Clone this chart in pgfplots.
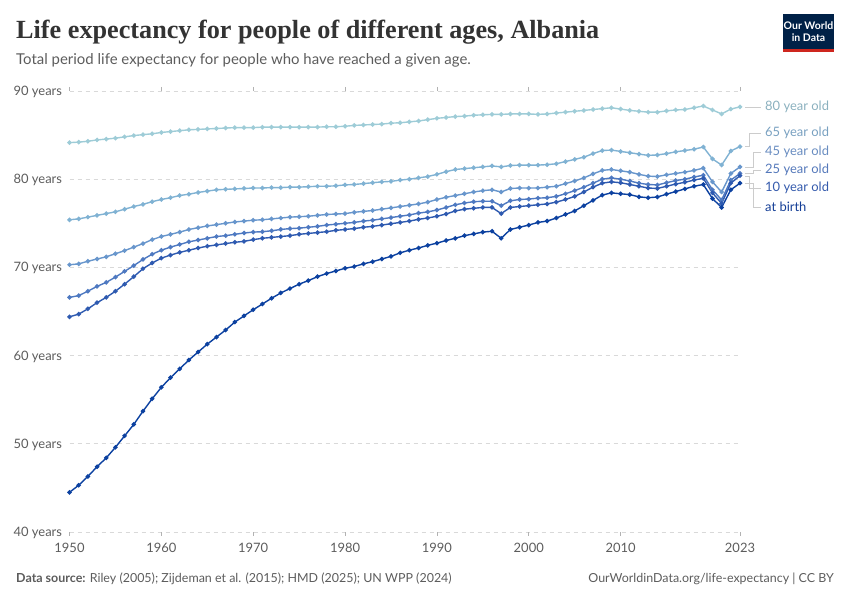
\documentclass[border=0pt]{standalone}
\usepackage{fontspec}
\setmainfont{Lato}
\newfontfamily\titlefont{Liberation Serif}
\usepackage{pgfplots}
\pgfplotsset{compat=1.18}
\usepackage{pgfplotstable}

\definecolor{c80}{RGB}{158,204,215}
\definecolor{c65}{RGB}{128,178,211}
\definecolor{c45}{RGB}{104,150,204}
\definecolor{c25}{RGB}{78,121,193}
\definecolor{c10}{RGB}{46,90,176}
\definecolor{cbirth}{RGB}{12,65,160}
\definecolor{t80}{RGB}{138,176,190}
\definecolor{t65}{RGB}{120,160,192}
\definecolor{t45}{RGB}{104,140,192}
\definecolor{t25}{RGB}{84,120,186}
\definecolor{t10}{RGB}{52,90,172}
\definecolor{tbirth}{RGB}{20,62,150}
\definecolor{txtgray}{RGB}{92,92,92}
\definecolor{owidblue}{RGB}{0,33,71}
\definecolor{owidred}{RGB}{206,38,30}

\pgfplotstableread{
year birth y10 y25 y45 y65 y80
1950 44.5 64.4 66.6 70.3 75.4 84.15
1951 45.3 64.7 66.8 70.4 75.5 84.2
1952 46.3 65.3 67.3 70.7 75.7 84.3
1953 47.4 66.0 67.85 70.95 75.9 84.45
1954 48.4 66.6 68.3 71.2 76.1 84.55
1955 49.6 67.3 68.9 71.55 76.3 84.65
1956 50.9 68.1 69.55 71.9 76.6 84.8
1957 52.2 68.95 70.2 72.3 76.9 84.95
1958 53.7 69.85 70.9 72.7 77.15 85.05
1959 55.1 70.5 71.5 73.15 77.45 85.15
1960 56.4 71.05 71.95 73.5 77.7 85.3
1961 57.5 71.4 72.3 73.75 77.9 85.4
1962 58.5 71.7 72.6 74.0 78.15 85.5
1963 59.5 71.95 72.9 74.3 78.3 85.6
1964 60.4 72.2 73.1 74.5 78.5 85.65
1965 61.3 72.4 73.3 74.7 78.65 85.7
1966 62.1 72.55 73.5 74.85 78.8 85.75
1967 62.9 72.7 73.6 75.0 78.85 85.8
1968 63.8 72.85 73.75 75.15 78.9 85.85
1969 64.5 72.95 73.9 75.25 78.95 85.85
1970 65.2 73.15 74.0 75.35 79.0 85.85
1971 65.85 73.3 74.05 75.4 79.0 85.9
1972 66.5 73.4 74.15 75.5 79.05 85.9
1973 67.1 73.5 74.3 75.6 79.05 85.9
1974 67.6 73.6 74.4 75.7 79.1 85.9
1975 68.1 73.75 74.45 75.75 79.1 85.9
1976 68.5 73.85 74.55 75.8 79.15 85.9
1977 68.95 73.95 74.65 75.9 79.2 85.9
1978 69.3 74.05 74.8 76.0 79.2 85.95
1979 69.6 74.2 74.9 76.05 79.25 85.95
1980 69.9 74.3 75.0 76.1 79.35 86.0
1981 70.1 74.4 75.1 76.25 79.4 86.1
1982 70.4 74.55 75.25 76.35 79.5 86.15
1983 70.65 74.65 75.35 76.45 79.6 86.2
1984 70.95 74.8 75.5 76.6 79.7 86.25
1985 71.25 74.95 75.65 76.75 79.75 86.35
1986 71.65 75.1 75.8 76.9 79.9 86.4
1987 71.95 75.25 75.95 77.05 80.0 86.5
1988 72.2 75.45 76.15 77.2 80.15 86.6
1989 72.5 75.6 76.3 77.4 80.3 86.75
1990 72.75 75.8 76.5 77.7 80.55 86.9
1991 73.05 76.05 76.8 77.95 80.85 87.0
1992 73.3 76.4 77.1 78.15 81.1 87.1
1993 73.6 76.6 77.3 78.35 81.2 87.15
1994 73.8 76.7 77.45 78.55 81.3 87.25
1995 74.0 76.8 77.5 78.7 81.4 87.3
1996 74.1 76.8 77.5 78.8 81.5 87.35
1997 73.3 76.1 77.0 78.55 81.4 87.35
1998 74.3 76.8 77.55 78.95 81.55 87.4
1999 74.55 76.9 77.7 79.0 81.6 87.4
2000 74.8 77.0 77.75 79.0 81.6 87.4
2001 75.1 77.1 77.85 79.0 81.6 87.35
2002 75.25 77.2 77.9 79.1 81.65 87.4
2003 75.6 77.4 78.05 79.2 81.75 87.5
2004 76.0 77.7 78.35 79.5 82.0 87.6
2005 76.4 78.05 78.7 79.8 82.25 87.7
2006 77.0 78.55 79.1 80.15 82.5 87.8
2007 77.6 79.1 79.55 80.6 82.9 87.9
2008 78.2 79.55 80.0 81.0 83.25 88.0
2009 78.45 79.7 80.15 81.1 83.3 88.1
2010 78.35 79.6 80.0 80.95 83.15 87.95
2011 78.25 79.4 79.8 80.8 83.0 87.8
2012 78.0 79.2 79.55 80.55 82.85 87.7
2013 77.9 79.0 79.4 80.35 82.7 87.6
2014 77.98 78.95 79.35 80.3 82.75 87.6
2015 78.3 79.2 79.6 80.5 82.9 87.75
2016 78.6 79.45 79.85 80.65 83.1 87.85
2017 78.9 79.65 80.0 80.8 83.25 87.9
2018 79.2 79.9 80.25 81.0 83.4 88.1
2019 79.4 80.1 80.45 81.25 83.65 88.3
2020 77.8 78.45 78.8 79.7 82.3 87.85
2021 76.8 77.25 77.65 78.55 81.6 87.4
2022 78.8 79.55 79.9 80.65 83.2 87.95
2023 79.55 80.4 80.65 81.4 83.7 88.2
}\lifetable

\begin{document}
\begin{tikzpicture}
\useasboundingbox (0,0) rectangle (850bp,600bp);
% title and subtitle
\node[anchor=base west, inner sep=0pt, text=black!80] at (16bp,561bp) {\titlefont\fontsize{26.3}{26.3}\selectfont\bfseries Life expectancy for people of different ages, Albania};
\node[anchor=base west, inner sep=0pt, text=txtgray] at (16bp,535bp) {\fontsize{15}{15}\selectfont Total period life expectancy for people who have reached a given age.};
% logo
\fill[owidblue] (783bp,551bp) rectangle (834bp,586bp);
\fill[owidred] (783bp,548bp) rectangle (834bp,551bp);
\node[align=center, text=white, inner sep=0pt, font=\fontsize{10.5}{12.5}\selectfont\bfseries] at (808.5bp,568.5bp) {Our World\\in Data};

\begin{axis}[
  at={(69.5bp,68bp)}, anchor=south west,
  width=670.5bp, height=441bp, scale only axis,
  xmin=1950, xmax=2023, ymin=40, ymax=90,
  clip=false,
  axis line style={draw=none},
  ytick={40,50,60,70,80,90},
  xtick={1950,1960,1970,1980,1990,2000,2010,2023},
  /pgf/number format/assume math mode=true,
  xticklabel style={/pgf/number format/1000 sep={}, font=\fontsize{13}{13}\selectfont, text=txtgray, yshift=-4bp},
  yticklabel={\pgfmathprintnumber{\tick} years},
  yticklabel style={font=\fontsize{13}{13}\selectfont, text=txtgray, anchor=east, yshift=-1bp},
  ymajorgrids,
  grid style={gray!30, line width=0.8bp, dash pattern=on 4bp off 4bp},
  tick align=outside,
  major tick length=4bp,
  xtick style={draw=gray!60, line width=0.8bp},
  ytick style={draw=none},
  every axis plot/.append style={line width=1.4bp, mark=*, mark size=1.5bp},
]
\addplot[c80, mark options={fill=c80}] table[x=year, y=y80] {\lifetable};
\addplot[c65, mark options={fill=c65}] table[x=year, y=y65] {\lifetable};
\addplot[c45, mark options={fill=c45}] table[x=year, y=y45] {\lifetable};
\addplot[c25, mark options={fill=c25}] table[x=year, y=y25] {\lifetable};
\addplot[c10, mark options={fill=c10}] table[x=year, y=y10] {\lifetable};
\addplot[cbirth, mark options={fill=cbirth}] table[x=year, y=birth] {\lifetable};
\end{axis}

% right-hand labels with leader lines
\begin{scope}[gray!40, line width=0.8bp]
\draw (745bp,493bp) -- (761bp,493bp);
\draw (745bp,454bp) -- (749bp,454bp) -- (749bp,467bp) -- (761bp,467bp);
\draw (745bp,433bp) -- (753bp,433bp) -- (753bp,448bp) -- (761bp,448bp);
\draw (745bp,427bp) -- (753bp,427bp) -- (753bp,430bp) -- (761bp,430bp);
\draw (745bp,424bp) -- (749bp,424bp) -- (749bp,412bp) -- (761bp,412bp);
\draw (745bp,417bp) -- (753bp,417bp) -- (753bp,393bp) -- (761bp,393bp);
\end{scope}
\begin{scope}[every node/.style={anchor=west, inner sep=0pt, font=\fontsize{13}{13}\selectfont}]
\node[text=t80] at (765bp,493bp) {80 year old};
\node[text=t65] at (765bp,467bp) {65 year old};
\node[text=t45] at (765bp,448bp) {45 year old};
\node[text=t25] at (765bp,430bp) {25 year old};
\node[text=t10] at (765bp,412bp) {10 year old};
\node[text=tbirth] at (765bp,393bp) {at birth};
\end{scope}

% footer
\node[anchor=base west, inner sep=0pt, text=txtgray] at (16bp,18bp) {\fontsize{12.5}{12.5}\selectfont\textbf{Data source:} Riley (2005); Zijdeman et al. (2015); HMD (2025); UN WPP (2024)};
\node[anchor=base east, inner sep=0pt, text=txtgray] at (834bp,18bp) {\fontsize{12.5}{12.5}\selectfont OurWorldinData.org/life-expectancy | CC BY};
\end{tikzpicture}
\end{document}
